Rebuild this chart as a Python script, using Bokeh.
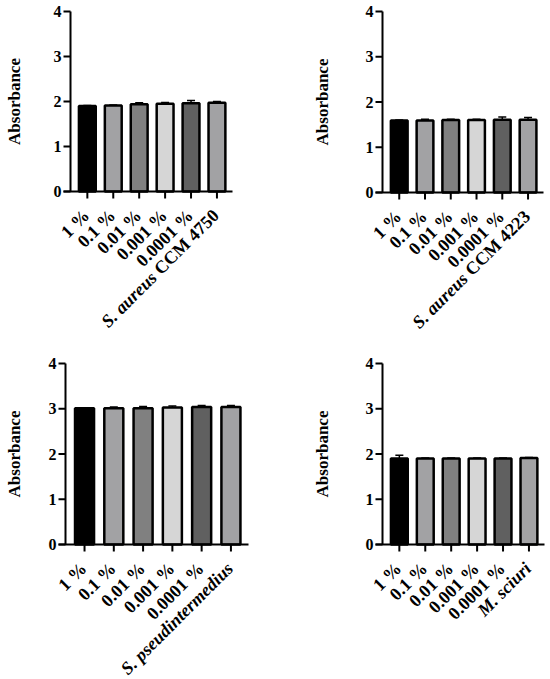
import math
from bokeh.plotting import figure
from bokeh.models import ColumnDataSource, Range1d, Whisker, TeeHead
from bokeh.layouts import gridplot
from bokeh.core.properties import value
from bokeh.embed import file_html
from bokeh.resources import INLINE

# ---- data ----
conc_labels = ["1 %", "0.1 %", "0.01 %", "0.001 %", "0.0001 %"]

p1_vals = [1.90, 1.91, 1.94, 1.95, 1.96, 1.97]
p1_errs = [0.01, 0.015, 0.03, 0.03, 0.06, 0.03]
p1_species = ("S. aureus", " CCM 4750")

p2_vals = [1.59, 1.59, 1.60, 1.60, 1.61, 1.61]
p2_errs = [0.01, 0.03, 0.02, 0.02, 0.06, 0.05]
p2_species = ("S. aureus", " CCM 4223")

p3_vals = [3.01, 3.01, 3.01, 3.03, 3.04, 3.04]
p3_errs = [0.01, 0.03, 0.04, 0.03, 0.03, 0.03]
p3_species = ("S. pseudintermedius", "")

p4_vals = [1.90, 1.90, 1.90, 1.90, 1.90, 1.91]
p4_errs = [0.07, 0.01, 0.01, 0.01, 0.01, 0.01]
p4_species = ("M. sciuri", "")

bar_colors = ["#000000", "#a2a2a4", "#808080", "#d6d6d6", "#606060", "#a2a2a4"]
y_ticks = [0, 1, 2, 3, 4]
y_label = "Absorbance"

FONT = "Liberation Serif"
XLAB_SIZE = 18
X_AX, X_END = 0.35, 6.6      # axis extent in category units
Y_TOP = 4
# Times/Liberation Serif Bold advance widths (per 1000 em)
BOLD_W = {" ": 250, "C": 722, "M": 944}
for d in "0123456789":
    BOLD_W[d] = 500


def text_width(s, size):
    return sum(BOLD_W.get(ch, 500) for ch in s) * size / 1000.0


def make_panel(vals, errs, species, W, H, ax_px, ae_px, t_px, b_px, ylab_px):
    ppx = (ae_px - ax_px) / (X_END - X_AX)
    ppy = (b_px - t_px) / Y_TOP
    xr = Range1d(X_AX - ax_px / ppx, X_AX + (W - ax_px) / ppx)
    yr = Range1d(-(H - b_px) / ppy, Y_TOP + t_px / ppy)
    p = figure(width=W, height=H, x_range=xr, y_range=yr, x_axis_location=None,
               y_axis_location=None, min_border=0, output_backend="svg",
               toolbar_location=None)
    p.outline_line_color = None
    p.grid.visible = False

    xs = list(range(1, len(vals) + 1))
    src = ColumnDataSource(dict(x=xs, top=vals, upper=[v + e for v, e in zip(vals, errs)],
                                color=bar_colors))
    p.add_layout(Whisker(source=src, base="x", lower="top", upper="upper", line_width=1.5,
                         line_color="black", lower_head=None,
                         upper_head=TeeHead(size=8, line_width=1.5, line_color="black")))
    p.vbar(x="x", top="top", width=0.65, fill_color="color", line_color="black",
           line_width=2.5, source=src)

    # axes
    p.segment(x0=[X_AX], y0=[0], x1=[X_AX], y1=[Y_TOP], line_color="black", line_width=2)
    p.segment(x0=[X_AX - 7 / ppx], y0=[0], x1=[X_END], y1=[0], line_color="black",
              line_width=2)
    p.ray(x=[X_AX] * len(y_ticks), y=y_ticks, length=7, length_units="screen",
          angle=math.pi, line_color="black", line_width=2)
    p.ray(x=xs, y=[0] * len(xs), length=7, length_units="screen", angle=-math.pi / 2,
          line_color="black", line_width=2)
    p.text(x=[X_AX - 9 / ppx] * len(y_ticks), y=y_ticks, text=[str(t) for t in y_ticks],
           text_align="right", text_baseline="middle", text_font=value(FONT),
           text_font_style="bold", text_font_size=value("16px"), text_color="black")
    p.text(x=[X_AX - ylab_px / ppx], y=[Y_TOP / 2], text=[y_label], angle=math.pi / 2,
           text_align="center", text_baseline="middle", text_font=value(FONT),
           text_font_style="bold", text_font_size=value("17px"), text_color="black")

    # rotated category labels
    ang = math.pi / 4
    c = math.cos(ang)
    dx_px, dy_px = -1, 21
    ax0 = [x + dx_px / ppx for x in xs]
    ay0 = -dy_px / ppy
    n = len(conc_labels)
    p.text(x=ax0[:n], y=[ay0] * n, text=conc_labels, angle=ang, text_align="right",
           text_baseline="middle", text_font=value(FONT), text_font_style="bold",
           text_font_size=value(f"{XLAB_SIZE}px"), text_color="black")
    ital, rest = species
    shift = 0.0
    if rest:
        p.text(x=[ax0[n]], y=[ay0], text=[rest.strip()], angle=ang, text_align="right",
               text_baseline="middle", text_font=value(FONT), text_font_style="bold",
               text_font_size=value(f"{XLAB_SIZE}px"), text_color="black")
        shift = text_width(rest, XLAB_SIZE)
    p.text(x=[ax0[n] - shift * c / ppx], y=[ay0 - shift * c / ppy], text=[ital], angle=ang,
           text_align="right", text_baseline="middle", text_font=value(FONT),
           text_font_style="bold italic", text_font_size=value(f"{XLAB_SIZE}px"),
           text_color="black")
    return p


p1 = make_panel(p1_vals, p1_errs, p1_species, 275, 340, 70, 232, 11, 191, 56)
p2 = make_panel(p2_vals, p2_errs, p2_species, 275, 340, 107, 268, 11, 192, 60)
p3 = make_panel(p3_vals, p3_errs, p3_species, 275, 339, 65, 248, 23, 204, 51)
p4 = make_panel(p4_vals, p4_errs, p4_species, 275, 339, 107, 269, 23, 204, 60)

grid = gridplot([[p1, p2], [p3, p4]], toolbar_location=None)
open("out.html", "w").write(file_html(grid, INLINE))
